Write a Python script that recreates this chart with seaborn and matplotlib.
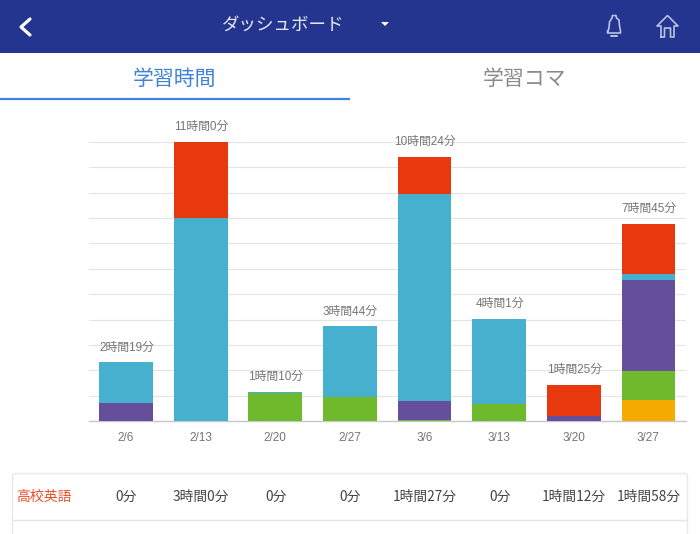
import matplotlib
matplotlib.use('Agg')
import matplotlib.pyplot as plt
from matplotlib.patches import FancyBboxPatch, Rectangle, Polygon
import numpy as np
import pandas as pd
import seaborn as sns

# Study minutes per week
weeks = ['2/6', '2/13', '2/20', '2/27', '3/6', '3/13', '3/20', '3/27']
orange_vals = [0, 0, 0, 0, 0, 0, 0, 51]
green_vals = [0, 0, 68, 57, 3, 41, 0, 67]
purple_vals = [43, 0, 0, 0, 45, 0, 13, 215]
blue_vals = [96, 480, 2, 167, 489, 200, 0, 14]
red_vals = [0, 180, 0, 0, 87, 0, 72, 118]

total_labels = ['2時間19分', '11時間0分', '1時間10分', '3時間44分',
                '10時間24分', '4時間1分', '1時間25分', '7時間45分']
table_name = '高校英語'
table_vals = ['0分', '3時間0分', '0分', '0分', '1時間27分', '0分', '1時間12分', '1時間58分']

stack_order = [('orange', orange_vals, '#F5AB00'),
               ('green', green_vals, '#6FB92C'),
               ('purple', purple_vals, '#654E9C'),
               ('blue', blue_vals, '#47B0CE'),
               ('red', red_vals, '#E8380D')]

sns.set_theme(style='white')
plt.rcParams['font.family'] = ['Liberation Sans', 'Noto Sans CJK JP', 'DejaVu Sans']
cjk = ['Noto Sans CJK JP', 'DejaVu Sans']

W, H = 700, 534
fig = plt.figure(figsize=(W / 100, H / 100), dpi=100)
fig.patch.set_facecolor('white')

# Chart area, 0 at y=421.5px and 660 min at y=142px
ax = fig.add_axes([88.7 / W, 1 - 421.3 / H, 597 / W, 279.5 / H])
ax.set_facecolor('none')

df = pd.DataFrame({'week': weeks})
bottom = np.zeros(len(weeks))
for name, vals, color in stack_order:
    df[name] = vals
    sns.barplot(data=df, x='week', y=name, color=color, bottom=bottom, width=0.72,
                saturation=1, linewidth=0, ax=ax, zorder=3, errorbar=None)
    bottom = bottom + np.array(vals)

for i, label in enumerate(total_labels):
    ax.annotate(label, (i, bottom[i]), xytext=(0.4, 6.5), textcoords='offset points',
                ha='center', va='bottom', fontsize=8.5, color='#757575', zorder=5)

ax.set_xlim(-0.5, 7.5)
ax.set_ylim(0, 660)
ax.set_yticks(np.arange(0, 661, 60))
ax.grid(axis='y', color='#e4e4e4', linewidth=0.8, zorder=0)
ax.set_axisbelow(True)
ax.set_xlabel('')
ax.set_ylabel('')
ax.tick_params(axis='x', length=0, pad=8, labelsize=8.5, labelcolor='#757575')
ax.tick_params(axis='y', length=0, labelleft=False)
for side in ['top', 'left', 'right']:
    ax.spines[side].set_visible(False)
ax.spines['bottom'].set_color('#c8c8c8')
ax.spines['bottom'].set_linewidth(1)

# Overlay in pixel coordinates for the app chrome around the chart
ov = fig.add_axes([0, 0, 1, 1], zorder=10)
ov.set_xlim(0, W)
ov.set_ylim(H, 0)
ov.axis('off')
ov.patch.set_alpha(0)

# Header bar
ov.add_patch(Rectangle((0, 0), W, 53, facecolor='#23358F', edgecolor='none'))
ov.plot([30, 21, 30], [19, 27, 35], color='white', lw=2.3, solid_capstyle='round',
        solid_joinstyle='round')
ov.text(283, 25, 'ダッシュボード', family=cjk, fontsize=12.6, color='#E8EAF4',
        ha='center', va='center')
ov.add_patch(Polygon([[381, 22], [389, 22], [385, 26]], facecolor='white', edgecolor='none'))

# Bell icon
icon_color = '#B9C3E4'
bell_x = [608, 609, 609.5, 612, 612.5, 616, 616.5, 619, 619.5, 620.5, 620.5, 607.5, 607.5, 608]
bell_y = [31, 28, 22, 18, 15.5, 15.5, 18, 20, 26, 31, 33, 33, 31, 31]
ov.plot(bell_x, bell_y, color=icon_color, lw=1.2)
ov.plot([611, 617], [35.5, 35.5], color=icon_color, lw=1.4)

# Home icon
home_x = [661, 661, 657, 667.5, 678, 674, 674, 670.5, 670.5, 664.5, 664.5, 661]
home_y = [37, 26, 26, 15.5, 26, 26, 37, 37, 28, 28, 37, 37]
ov.plot(home_x, home_y, color=icon_color, lw=1.2, solid_joinstyle='round')

# Tabs
ov.text(175, 79, '学習時間', family=cjk, fontsize=15, color='#3F82D6',
        ha='center', va='center')
ov.text(525, 79, '学習コマ', family=cjk, fontsize=15, color='#8A8A8A',
        ha='center', va='center')
ov.plot([0, 350], [98.5, 98.5], color='#3F82D6', lw=1.6, solid_capstyle='butt')

# Table card below the chart
ov.add_patch(FancyBboxPatch((12.5, 473.5), 675, 90, boxstyle='round,pad=0,rounding_size=3',
                            facecolor='white', edgecolor='#e8e8e8', lw=1, clip_on=True))
ov.plot([13, 687], [519.5, 519.5], color='#e4e4e4', lw=1)
ov.text(16.5, 496.5, table_name, family=cjk, fontsize=10, color='#E8502A',
        ha='left', va='center')
for i, val in enumerate(table_vals):
    cx = ov.transData.inverted().transform(ax.transData.transform((i, 0)))[0]
    ov.text(cx + 0.5, 496.5, val, family=cjk, fontsize=9.9, color='#444444',
            ha='center', va='center')

fig.savefig('out.png', dpi=100)
